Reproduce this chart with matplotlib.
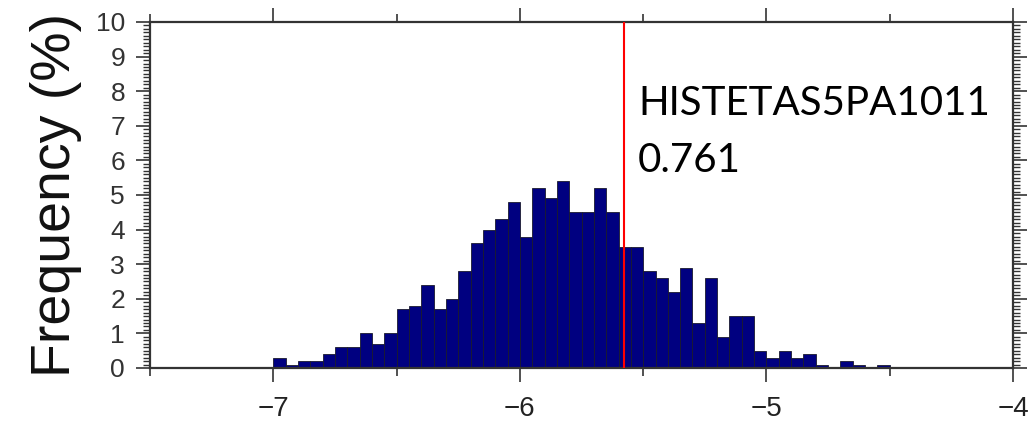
import matplotlib.pyplot as plt
from matplotlib.ticker import MultipleLocator

# histogram bins (left edges from -7.0, width 0.05) and frequencies in %
bin_start = -7.0
bin_width = 0.05
freq = [0.3, 0.1, 0.2, 0.2, 0.4, 0.6, 0.6, 1.0, 0.7, 1.0,
        1.7, 1.8, 2.4, 1.7, 2.0, 2.8, 3.6, 4.0, 4.3, 4.8,
        3.8, 5.2, 4.9, 5.4, 4.5, 4.5, 5.2, 4.5, 3.5, 3.5,
        2.8, 2.6, 2.2, 2.9, 1.3, 2.6, 0.9, 1.5, 1.5, 0.5,
        0.3, 0.5, 0.3, 0.4, 0.1, 0.0, 0.2, 0.1, 0.0, 0.1]
edges = [bin_start + i * bin_width for i in range(len(freq))]

obs_value = -5.577
label_name = 'HISTETAS5PA1011'
label_value = '0.761'
xticks = [-7, -6, -5, -4]
xticklabels = ['\u22127', '\u22126', '\u22125', '\u22124']

fig = plt.figure(figsize=(10.29, 4.22), dpi=100)
ax = fig.add_axes([0.1458, 0.128, 0.8387, 0.8199])

ax.bar(edges, freq, width=bin_width, align='edge', color='#000080',
       edgecolor='#1a1a2e', linewidth=0.6, zorder=2)
ax.axvline(obs_value, color='red', linewidth=1.5, zorder=3)

ax.set_xlim(-7.5, -4)
ax.set_ylim(0, 10)
ax.xaxis.set_minor_locator(MultipleLocator(0.5))
ax.yaxis.set_major_locator(MultipleLocator(1))
ax.yaxis.set_minor_locator(MultipleLocator(0.1))

for s in ax.spines.values():
    s.set_linewidth(1.6)
    s.set_color('#333333')

ax.tick_params(which='both', direction='out', top=True, right=True,
               color='#333333', width=1.2)
ax.tick_params(which='major', length=10)
ax.tick_params(which='minor', length=6)
ax.tick_params(axis='y', which='minor', length=5, width=1.0)
ax.tick_params(axis='x', which='major', labelsize=20, pad=10)
ax.tick_params(axis='y', which='major', labelsize=19, pad=8)

ax.set_xticks(xticks)
ax.set_xticklabels(xticklabels, family='Liberation Sans', color='#222222')
for t in ax.get_yticklabels():
    t.set_family('Liberation Sans')
    t.set_color('#333333')

ax.set_ylabel('Frequency (%)', fontsize=40, family='Liberation Sans',
              labelpad=10, color='#111111')

fig.text(638 / 1029, 1 - 115 / 422, label_name, fontsize=29,
         family='Lato', va='baseline', ha='left')
fig.text(638 / 1029, 1 - 172 / 422, label_value, fontsize=29,
         family='Lato', va='baseline', ha='left')

fig.savefig('out.png', dpi=100)
